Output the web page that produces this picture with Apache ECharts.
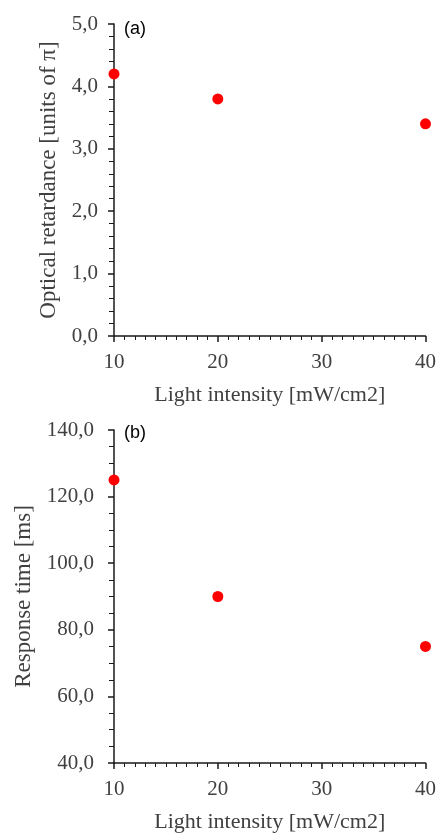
<!DOCTYPE html>
<html>
<head>
<meta charset="utf-8">
<script src="https://cdn.jsdelivr.net/npm/echarts@6/dist/echarts.min.js"></script>
<style>
  html, body { margin: 0; padding: 0; background: #fff; }
  #chart { width: 439px; height: 834px; }
</style>
</head>
<body>
<div id="chart"></div>
<script>
// Measured values
const intensity = [10, 20, 40];          // mW/cm2
const retardance = [4.2, 3.8, 3.4];      // units of pi
const responseTime = [125, 90, 75];      // ms

const xTicks = { min: 10, max: 40, interval: 10 };
const retTicks = { min: 0, max: 5, interval: 1 };
const respTicks = { min: 40, max: 140, interval: 20 };

const serif = '"Liberation Serif", "Times New Roman", serif';
const sans = '"Liberation Sans", Arial, sans-serif';
const textColor = '#404040';
const lineColor = '#1a1a1a';

const commaFmt = v => v.toFixed(1).replace('.', ',');

function xAxisOf(gridIndex) {
  return {
    type: 'value',
    gridIndex,
    min: xTicks.min, max: xTicks.max, interval: xTicks.interval,
    name: 'Light intensity [mW/cm2]',
    nameLocation: 'middle',
    nameGap: 48,
    nameTextStyle: { fontFamily: serif, fontSize: 22, color: textColor },
    axisLine: { show: true, lineStyle: { color: lineColor, width: 1.5 } },
    axisTick: { show: true, inside: false, length: 6, lineStyle: { color: lineColor, width: 1.5 } },
    minorTick: { show: true, splitNumber: 10, length: 4, lineStyle: { color: lineColor, width: 1 } },
    axisLabel: { fontFamily: serif, fontSize: 21, color: textColor, margin: 16 },
    splitLine: { show: false }
  };
}

function yAxisOf(gridIndex, ticks, name, nameGap, minorSplit, labelMargin) {
  return {
    type: 'value',
    gridIndex,
    min: ticks.min, max: ticks.max, interval: ticks.interval,
    name,
    nameLocation: 'middle',
    nameGap,
    nameTextStyle: { fontFamily: serif, fontSize: 23, color: textColor },
    axisLine: { show: true, lineStyle: { color: lineColor, width: 1.5 } },
    axisTick: { show: true, inside: false, length: 6, lineStyle: { color: lineColor, width: 1.5 } },
    minorTick: { show: true, splitNumber: minorSplit, length: 5, lineStyle: { color: lineColor, width: 1 } },
    axisLabel: { fontFamily: serif, fontSize: 21, color: textColor, margin: labelMargin, formatter: commaFmt },
    splitLine: { show: false }
  };
}

const chart = echarts.init(document.getElementById('chart'), null, { renderer: 'canvas' });

chart.setOption({
  backgroundColor: '#fff',
  animation: false,
  title: [
    { text: '(a)', left: 119, top: 15, textStyle: { fontFamily: sans, fontSize: 18, fontWeight: 'normal', color: '#000' } },
    { text: '(b)', left: 119, top: 419, textStyle: { fontFamily: sans, fontSize: 18, fontWeight: 'normal', color: '#000' } }
  ],
  grid: [
    { left: 114, right: 13, top: 24, height: 312 },
    { left: 114, right: 13, top: 430, height: 333 }
  ],
  xAxis: [xAxisOf(0), xAxisOf(1)],
  yAxis: [
    yAxisOf(0, retTicks, 'Optical retardance [units of π]', 50, 5, 16),
    yAxisOf(1, respTicks, 'Response time [ms]', 79, 4, 20)
  ],
  series: [
    {
      type: 'scatter',
      xAxisIndex: 0, yAxisIndex: 0,
      symbol: 'circle', symbolSize: 11,
      itemStyle: { color: '#ff0000', opacity: 1 },
      data: intensity.map((x, i) => [x, retardance[i]])
    },
    {
      type: 'scatter',
      xAxisIndex: 1, yAxisIndex: 1,
      symbol: 'circle', symbolSize: 11,
      itemStyle: { color: '#ff0000', opacity: 1 },
      data: intensity.map((x, i) => [x, responseTime[i]])
    }
  ]
});
</script>
</body>
</html>
